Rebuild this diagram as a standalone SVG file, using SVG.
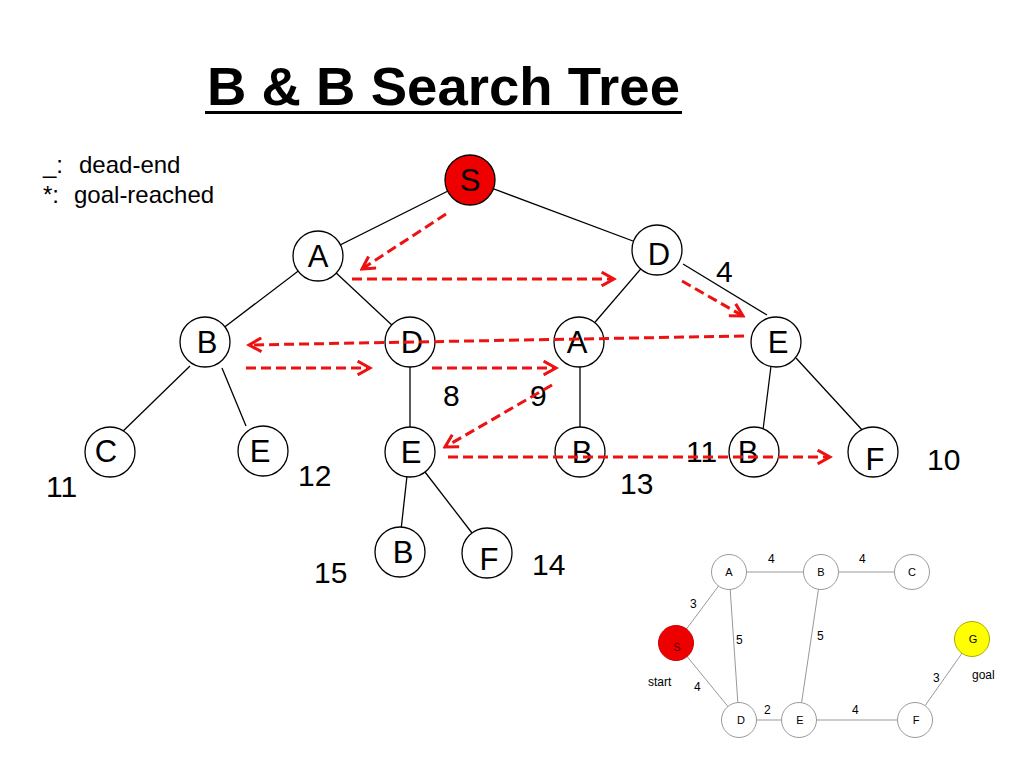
<svg xmlns="http://www.w3.org/2000/svg" width="1024" height="768" viewBox="0 0 1024 768">
<defs>
<style>
.t{font-family:"Liberation Sans",Arial,sans-serif;fill:#000}
.node circle{fill:#fff;stroke:#000;stroke-width:1.3}
.node text{font-family:"Liberation Sans",Arial,sans-serif;font-size:31px;text-anchor:middle}
.edge{stroke:#000;stroke-width:1.3}
.num{font-family:"Liberation Sans",Arial,sans-serif;font-size:30px}
.arr{stroke:#ee1111;stroke-width:3;stroke-dasharray:10 5;fill:none;marker-end:url(#ah)}
.g circle{fill:#fff;stroke:#999;stroke-width:1}
.g text{font-family:"Liberation Sans",Arial,sans-serif;font-size:11px;text-anchor:middle}
.ge{stroke:#999;stroke-width:1}
.gl{font-family:"Liberation Sans",Arial,sans-serif;font-size:12px}
</style>
<marker id="ah" viewBox="0 0 12 12" refX="10" refY="6" markerWidth="5.5" markerHeight="5.5" orient="auto" markerUnits="strokeWidth">
<path d="M1,1 L10,6 L1,11" fill="none" stroke="#ee1111" stroke-width="2.2"/>
</marker>
</defs>
<rect width="1024" height="768" fill="#fff"/>

<text class="t" x="207" y="105" font-size="54" font-weight="bold" textLength="473" lengthAdjust="spacingAndGlyphs">B &amp; B Search Tree</text>
<rect x="205" y="111" width="477" height="3" fill="#000"/>

<text class="t" x="43" y="173" font-size="24">_:<tspan x="79">dead-end</tspan></text>
<text class="t" x="43" y="203" font-size="24">*:<tspan x="74">goal-reached</tspan></text>

<g id="tree-edges">
<line class="edge" x1="470" y1="180" x2="318" y2="256"/>
<line class="edge" x1="470" y1="180" x2="657" y2="250"/>
<line class="edge" x1="318" y1="256" x2="205" y2="342"/>
<line class="edge" x1="318" y1="256" x2="410" y2="342"/>
<line class="edge" x1="657" y1="250" x2="578" y2="342"/>
<line class="edge" x1="683" y1="264" x2="767" y2="315"/>
<line class="edge" x1="190" y1="366" x2="118" y2="436"/>
<line class="edge" x1="222" y1="368" x2="246" y2="426"/>
<line class="edge" x1="410" y1="342" x2="410" y2="452"/>
<line class="edge" x1="580" y1="342" x2="580" y2="455"/>
<line class="edge" x1="771" y1="366" x2="763" y2="430"/>
<line class="edge" x1="796" y1="358" x2="864" y2="432"/>
<line class="edge" x1="407" y1="476" x2="401" y2="530"/>
<line class="edge" x1="425" y1="472" x2="472" y2="533"/>
</g>

<g id="node-S" class="node"><circle cx="470" cy="180" r="25" style="fill:#ee0000"/><text x="470" y="191">S</text></g>
<g id="node-A1" class="node"><circle cx="318" cy="256" r="25"/><text x="318" y="267">A</text></g>
<g id="node-D1" class="node"><circle cx="657" cy="250" r="25"/><text x="659" y="265">D</text></g>
<g id="node-B1" class="node"><circle cx="205" cy="342" r="25"/><text x="207" y="353">B</text></g>
<g id="node-D2" class="node"><circle cx="410" cy="342" r="25"/><text x="412" y="353">D</text></g>
<g id="node-A2" class="node"><circle cx="579" cy="342" r="25"/><text x="577" y="353">A</text></g>
<g id="node-E1" class="node"><circle cx="776" cy="342" r="25"/><text x="778" y="353">E</text></g>
<g id="node-C" class="node"><circle cx="110" cy="452" r="25"/><text x="106" y="462">C</text></g>
<g id="node-E2" class="node"><circle cx="263" cy="451" r="25"/><text x="260" y="462">E</text></g>
<g id="node-E3" class="node"><circle cx="410" cy="452" r="25"/><text x="411" y="463">E</text></g>
<g id="node-B2" class="node"><circle cx="580" cy="452" r="25"/><text x="582" y="463">B</text></g>
<g id="node-B3" class="node"><circle cx="754" cy="452" r="25"/><text x="748" y="463">B</text></g>
<g id="node-F1" class="node"><circle cx="873" cy="452" r="25"/><text x="875" y="470">F</text></g>
<g id="node-B4" class="node"><circle cx="400" cy="552" r="25"/><text x="403" y="563">B</text></g>
<g id="node-F2" class="node"><circle cx="487" cy="553" r="25"/><text x="489" y="570">F</text></g>

<g id="labels">
<text class="num" x="716" y="282">4</text>
<text class="num" x="443" y="406">8</text>
<text class="num" x="530" y="406">9</text>
<text class="num" x="46" y="497">11</text>
<text class="num" x="298" y="486">12</text>
<text class="num" x="620" y="494">13</text>
<text class="num" x="686" y="462">11</text>
<text class="num" x="927" y="470">10</text>
<text class="num" x="314" y="583">15</text>
<text class="num" x="532" y="575">14</text>
</g>

<g id="search-arrows">
<line class="arr" x1="446" y1="214" x2="362" y2="269"/>
<line class="arr" x1="352" y1="279" x2="614" y2="279"/>
<line class="arr" x1="682" y1="281" x2="743" y2="316"/>
<line class="arr" x1="744" y1="336" x2="249" y2="345"/>
<line class="arr" x1="246" y1="368" x2="370" y2="368"/>
<line class="arr" x1="432" y1="368" x2="556" y2="368"/>
<line class="arr" x1="552" y1="385" x2="445" y2="447"/>
<line class="arr" x1="448" y1="457" x2="830" y2="457"/>
</g>

<g id="small-graph-edges">
<line class="ge" x1="676" y1="643" x2="729" y2="572"/>
<line class="ge" x1="676" y1="643" x2="739" y2="720"/>
<line class="ge" x1="729" y1="572" x2="821" y2="572"/>
<line class="ge" x1="821" y1="572" x2="912" y2="572"/>
<line class="ge" x1="729" y1="572" x2="739" y2="720"/>
<line class="ge" x1="821" y1="572" x2="799" y2="720"/>
<line class="ge" x1="739" y1="720" x2="799" y2="720"/>
<line class="ge" x1="799" y1="720" x2="915" y2="720"/>
<line class="ge" x1="915" y1="720" x2="972" y2="639"/>
</g>
<g id="g-A" class="g"><circle cx="729" cy="572" r="17.5"/><text x="729" y="576">A</text></g>
<g id="g-B" class="g"><circle cx="821" cy="572" r="17.5"/><text x="821" y="576">B</text></g>
<g id="g-C" class="g"><circle cx="912" cy="572" r="17.5"/><text x="912" y="576">C</text></g>
<g id="g-S" class="g"><circle cx="676" cy="643" r="17.5" style="fill:#ee0000;stroke:#cc0000"/><text x="677" y="651" style="fill:#550000">S</text></g>
<g id="g-G" class="g"><circle cx="972" cy="639" r="17.5" style="fill:#ffff00;stroke:#aaaa00"/><text x="973" y="643">G</text></g>
<g id="g-D" class="g"><circle cx="739" cy="720" r="17.5"/><text x="741" y="724">D</text></g>
<g id="g-E" class="g"><circle cx="799" cy="720" r="17.5"/><text x="800" y="724">E</text></g>
<g id="g-F" class="g"><circle cx="915" cy="720" r="17.5"/><text x="916" y="724">F</text></g>
<g id="small-graph-labels">
<text class="gl" x="768" y="563">4</text>
<text class="gl" x="859" y="563">4</text>
<text class="gl" x="690" y="608">3</text>
<text class="gl" x="736" y="644">5</text>
<text class="gl" x="817" y="640">5</text>
<text class="gl" x="694" y="691">4</text>
<text class="gl" x="764" y="714">2</text>
<text class="gl" x="852" y="714">4</text>
<text class="gl" x="933" y="682">3</text>
<text class="gl" x="648" y="686">start</text>
<text class="gl" x="972" y="679">goal</text>
</g>
</svg>
